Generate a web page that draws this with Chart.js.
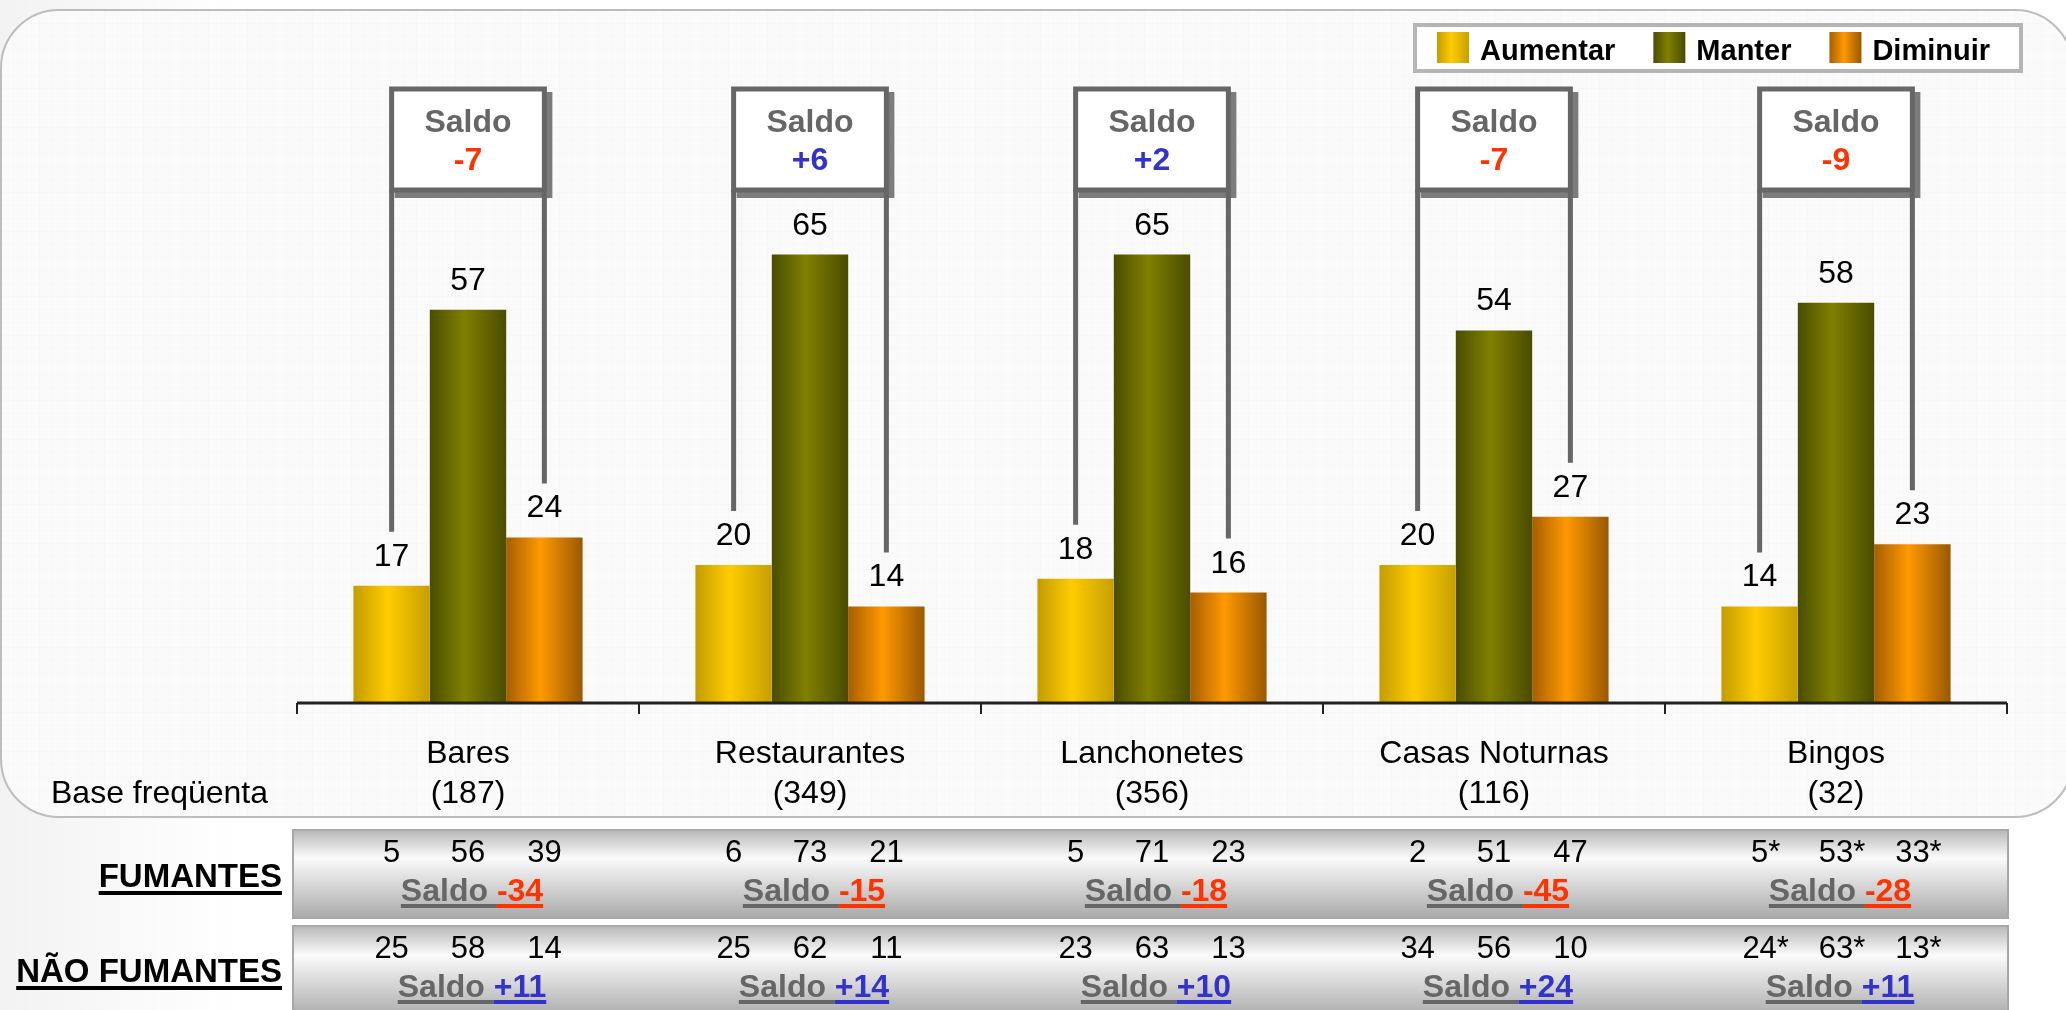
<!DOCTYPE html>
<html lang="pt-BR">
<head>
<meta charset="utf-8">
<title>Saldo por tipo de estabelecimento</title>
<script src="https://cdn.jsdelivr.net/npm/chart.js@4/dist/chart.umd.min.js"></script>
<style>
  html, body { margin: 0; padding: 0; background: #ffffff; overflow: hidden; }
  #grafico { display: block; }
</style>
</head>
<body>
<canvas id="grafico" width="2066" height="1010"></canvas>
<script>
"use strict";

// categorias e bases
const categorias = ['Bares', 'Restaurantes', 'Lanchonetes', 'Casas Noturnas', 'Bingos'];
const bases = ['(187)', '(349)', '(356)', '(116)', '(32)'];

// total
const aumentar = [17, 20, 18, 20, 14];
const manter = [57, 65, 65, 54, 58];
const diminuir = [24, 14, 16, 27, 23];
const saldoTotal = ['-7', '+6', '+2', '-7', '-9'];

// fumantes
const fumAumentar = ['5', '6', '5', '2', '5*'];
const fumManter = ['56', '73', '71', '51', '53*'];
const fumDiminuir = ['39', '21', '23', '47', '33*'];
const fumSaldo = ['-34', '-15', '-18', '-45', '-28'];

// não fumantes
const naoAumentar = ['25', '25', '23', '34', '24*'];
const naoManter = ['58', '62', '63', '56', '63*'];
const naoDiminuir = ['14', '11', '13', '10', '13*'];
const naoSaldo = ['+11', '+14', '+10', '+24', '+11'];

const FONTE = '"Liberation Sans", Arial, Helvetica, sans-serif';
const CINZA = '#666666';
const VERMELHO = '#ff3300';
const AZUL = '#3333cc';
const CAT_PCT = 0.67;

const coresAumentar = ['#c49c00', '#ffcc00', '#c6a000'];
const coresManter = ['#4a4d00', '#808000', '#4a4c00'];
const coresDiminuir = ['#a65e00', '#ff9900', '#995800'];

function corSaldo(s) {
  return s.charAt(0) === '-' ? VERMELHO : AZUL;
}

// gradiente horizontal para cada barra
function gradiente(cores) {
  return function (c) {
    if (c.type !== 'data') return cores[1];
    const chart = c.chart;
    const xs = chart.scales.x;
    if (!chart.chartArea || !xs) return cores[1];
    const larg = xs.width / categorias.length * CAT_PCT / 3;
    const cx = xs.getPixelForValue(c.dataIndex) + (c.datasetIndex - 1) * larg;
    if (!isFinite(cx)) return cores[1];
    const g = chart.ctx.createLinearGradient(cx - larg / 2, 0, cx + larg / 2, 0);
    g.addColorStop(0, cores[0]);
    g.addColorStop(0.45, cores[1]);
    g.addColorStop(1, cores[2]);
    return g;
  };
}

// fundo da página e painel arredondado
const fundo = {
  id: 'fundo',
  beforeDraw(chart) {
    const c = chart.ctx;
    const W = chart.width, H = chart.height;
    c.save();
    c.fillStyle = '#ffffff';
    c.fillRect(0, 0, W, H);
    const sombra = c.createLinearGradient(0, 0, 240, 0);
    sombra.addColorStop(0, 'rgba(0,0,0,0.05)');
    sombra.addColorStop(1, 'rgba(0,0,0,0)');
    c.fillStyle = sombra;
    c.fillRect(0, 0, 240, H);

    // painel
    c.beginPath();
    c.roundRect(1, 10, 2072, 807, 58);
    c.fillStyle = 'rgba(250,250,250,0.94)';
    c.fill();
    c.save();
    c.clip();
    c.strokeStyle = 'rgba(0,0,0,0.012)';
    c.lineWidth = 1;
    for (let x = 0.5; x < W; x += 13) { c.beginPath(); c.moveTo(x, 0); c.lineTo(x, 820); c.stroke(); }
    for (let y = 10.5; y < 820; y += 13) { c.beginPath(); c.moveTo(0, y); c.lineTo(W, y); c.stroke(); }
    c.restore();
    c.beginPath();
    c.roundRect(1, 10, 2072, 807, 58);
    c.strokeStyle = '#bdbdbd';
    c.lineWidth = 2;
    c.stroke();
    c.restore();
  }
};

function textoSaldo(c, valor, cx, base) {
  c.font = 'bold 32px ' + FONTE;
  const t1 = 'Saldo ';
  const w1 = c.measureText(t1).width;
  const w2 = c.measureText(valor).width;
  const x0 = cx - (w1 + w2) / 2;
  c.textAlign = 'left';
  c.textBaseline = 'alphabetic';
  c.fillStyle = CINZA;
  c.fillText(t1, x0, base);
  c.fillStyle = corSaldo(valor);
  c.fillText(valor, x0 + w1, base);
  c.fillStyle = CINZA;
  c.fillRect(x0, base + 3, w1, 4);
  c.fillStyle = corSaldo(valor);
  c.fillRect(x0 + w1, base + 3, w2, 4);
}

function numeroTabela(c, txt, cx, base) {
  c.font = '31px ' + FONTE;
  const dig = txt.replace('*', '');
  const w = c.measureText(dig).width;
  c.textAlign = 'left';
  c.fillStyle = '#000000';
  c.fillText(txt, cx - w / 2, base);
}

// eixo, rótulos, caixas de saldo, legenda e tabela
const extras = {
  id: 'extras',
  afterDraw(chart) {
    const c = chart.ctx;
    const xs = chart.scales.x;
    const area = chart.chartArea;
    const metas = [0, 1, 2].map(i => chart.getDatasetMeta(i));
    const passo = xs.width / categorias.length;
    c.save();

    // eixo x
    c.strokeStyle = '#222222';
    c.lineWidth = 3;
    c.beginPath();
    c.moveTo(area.left, area.bottom);
    c.lineTo(area.right, area.bottom);
    c.stroke();
    c.lineWidth = 2;
    for (let i = 0; i <= categorias.length; i++) {
      const x = Math.round(area.left + passo * i);
      c.beginPath();
      c.moveTo(x, area.bottom);
      c.lineTo(x, area.bottom + 11);
      c.stroke();
    }

    // rótulos das categorias
    c.fillStyle = '#000000';
    c.font = '32px ' + FONTE;
    c.textAlign = 'center';
    c.textBaseline = 'alphabetic';
    categorias.forEach((nome, i) => {
      const x = xs.getPixelForValue(i);
      c.fillText(nome, x, 763);
      c.fillText(bases[i], x, 803);
    });
    c.textAlign = 'left';
    c.fillText('Base freqüenta', 51, 803);

    // valores sobre as barras
    c.textAlign = 'center';
    metas.forEach(m => {
      m.data.forEach((bar, i) => {
        c.fillText(String(chart.data.datasets[m.index].data[i]), bar.x, bar.y - 20);
      });
    });

    // caixas de saldo com colchetes
    categorias.forEach((nome, i) => {
      const b1 = metas[0].data[i], b3 = metas[2].data[i];
      const x1 = b1.x, x3 = b3.x;
      const topo = 89, fundoCx = 190;
      c.fillStyle = '#7c7c7c';
      c.fillRect(x1 + 3, topo + 3, x3 - x1 + 5, fundoCx - topo + 5);
      c.fillStyle = '#ffffff';
      c.fillRect(x1, topo, x3 - x1, fundoCx - topo);
      c.lineWidth = 5;
      c.strokeStyle = CINZA;
      c.strokeRect(x1, topo, x3 - x1, fundoCx - topo);
      c.beginPath();
      c.moveTo(x1, fundoCx);
      c.lineTo(x1, b1.y - 54);
      c.moveTo(x3, fundoCx);
      c.lineTo(x3, b3.y - 54);
      c.stroke();

      const cx = (x1 + x3) / 2;
      c.textAlign = 'center';
      c.font = 'bold 32px ' + FONTE;
      c.fillStyle = CINZA;
      c.fillText('Saldo', cx, 132);
      c.fillStyle = corSaldo(saldoTotal[i]);
      c.fillText(saldoTotal[i], cx, 170);
    });

    // legenda
    c.fillStyle = '#ffffff';
    c.fillRect(1415, 25, 606, 46);
    c.strokeStyle = '#b5b5b5';
    c.lineWidth = 4;
    c.strokeRect(1415, 25, 606, 46);
    const legCores = [coresAumentar, coresManter, coresDiminuir];
    let lx = 1437;
    c.font = 'bold 29px ' + FONTE;
    c.textAlign = 'left';
    chart.data.datasets.forEach((ds, i) => {
      const g = c.createLinearGradient(lx, 0, lx + 32, 0);
      g.addColorStop(0, legCores[i][0]);
      g.addColorStop(0.45, legCores[i][1]);
      g.addColorStop(1, legCores[i][2]);
      c.fillStyle = g;
      c.fillRect(lx, 32, 32, 31);
      c.fillStyle = '#000000';
      c.fillText(ds.label, lx + 43, 60);
      lx += 43 + c.measureText(ds.label).width + 38;
    });

    // tabela fumantes / não fumantes
    const linhas = [
      { nome: 'FUMANTES', topo: 830, alt: 88, base: 887, a: fumAumentar, m: fumManter, d: fumDiminuir, s: fumSaldo },
      { nome: 'NÃO FUMANTES', topo: 926, alt: 92, base: 982, a: naoAumentar, m: naoManter, d: naoDiminuir, s: naoSaldo }
    ];
    linhas.forEach(l => {
      const g = c.createLinearGradient(0, l.topo, 0, l.topo + l.alt);
      g.addColorStop(0, '#b8b8b8');
      g.addColorStop(0.32, '#fbfbfb');
      g.addColorStop(1, '#a9a9a9');
      c.fillStyle = g;
      c.fillRect(293, l.topo, 2008 - 293, l.alt);
      c.strokeStyle = '#a8a8a8';
      c.lineWidth = 2;
      c.strokeRect(293, l.topo, 2008 - 293, l.alt);

      c.font = 'bold 33px ' + FONTE;
      c.textAlign = 'right';
      c.fillStyle = '#000000';
      c.fillText(l.nome, 282, l.base);
      const wn = c.measureText(l.nome).width;
      c.fillRect(282 - wn, l.base + 4, wn, 4);

      categorias.forEach((nome, i) => {
        const base1 = l.topo + 32;
        numeroTabela(c, l.a[i], metas[0].data[i].x, base1);
        numeroTabela(c, l.m[i], metas[1].data[i].x, base1);
        numeroTabela(c, l.d[i], metas[2].data[i].x, base1);
        textoSaldo(c, l.s[i], xs.getPixelForValue(i) + 4, l.topo + 71);
      });
    });

    c.restore();
  }
};

const ctx = document.getElementById('grafico').getContext('2d');
const grafico = new Chart(ctx, {
  type: 'bar',
  data: {
    labels: categorias,
    datasets: [
      { label: 'Aumentar', data: aumentar, backgroundColor: gradiente(coresAumentar) },
      { label: 'Manter', data: manter, backgroundColor: gradiente(coresManter) },
      { label: 'Diminuir', data: diminuir, backgroundColor: gradiente(coresDiminuir) }
    ]
  },
  options: {
    responsive: false,
    animation: false,
    layout: { padding: { left: 297, right: 59, top: 13, bottom: 307 } },
    datasets: { bar: { categoryPercentage: CAT_PCT, barPercentage: 1, borderWidth: 0 } },
    scales: {
      x: { display: false },
      y: { display: false, min: 0, max: 100 }
    },
    plugins: {
      legend: { display: false },
      tooltip: { enabled: false }
    }
  },
  plugins: [fundo, extras]
});
</script>
</body>
</html>
